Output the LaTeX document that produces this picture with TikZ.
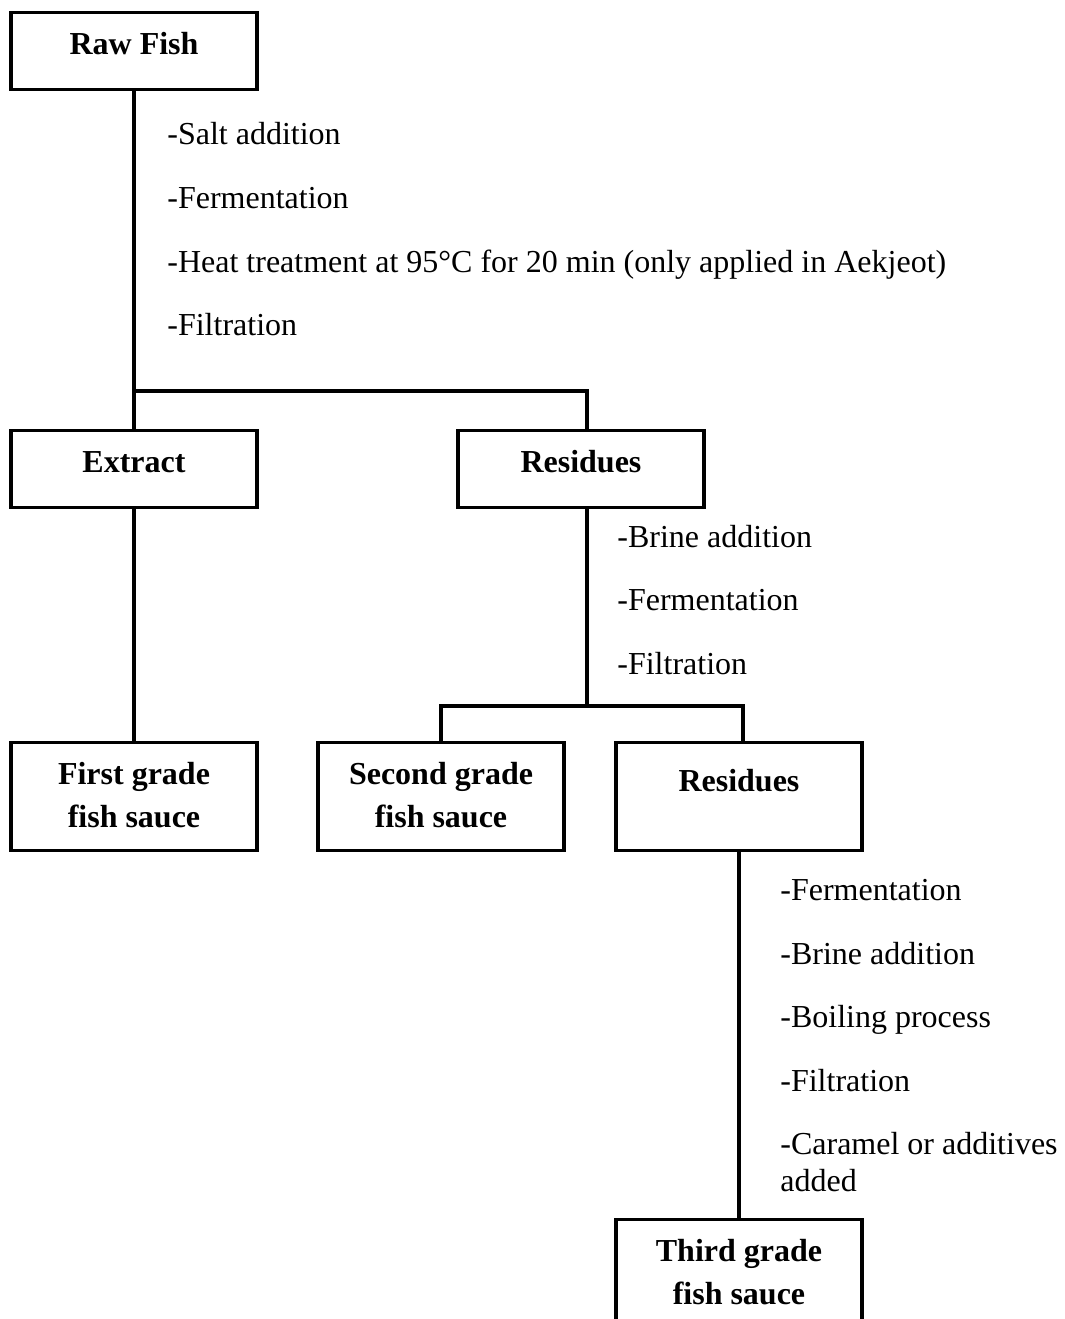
\documentclass[tikz,border=0pt]{standalone}
\usepackage{fontspec}
\setmainfont{Liberation Serif}
\usetikzlibrary{positioning, calc}

\begin{document}
\begin{tikzpicture}[
        x=0.5pt, y=-0.5pt,
        stage/.style={rectangle, draw=black, line width=1.7pt, fill=white, align=center, font=\fontsize{16}{21.5}\selectfont\bfseries, minimum width=123pt, inner xsep=0pt, inner ysep=0pt, anchor=north, text height=21pt, text depth=17.5pt},
        twoline/.style={text height=42.5pt, text depth=11.5pt},
        note/.style={anchor=base west, inner sep=0pt, align=left, font=\fontsize{16}{18.5}\selectfont},
        flow/.style={line width=1.6pt, draw=black}
    ]

        \useasboundingbox (0,0) rectangle (1065,1319);

        % ----------------------------------------------------
        % STAGES
        % ----------------------------------------------------
        \node[stage] (raw) at (134, 11) {Raw Fish};
        \node[stage] (extract) at (134, 429) {Extract};
        \node[stage] (res1) at (581, 429) {Residues};
        \node[stage, twoline] (first) at (134, 741) {First grade\\fish sauce};
        \node[stage, twoline] (second) at (441, 741) {Second grade\\fish sauce};
        \node[stage, text height=24.5pt, text depth=29.5pt] (res2) at (739, 741) {Residues};
        \node[stage, twoline] (third) at (739, 1218) {Third grade\\fish sauce};

        % ----------------------------------------------------
        % PROCESS STEPS
        % ----------------------------------------------------
        \node[note] (salt) at (167, 144) {-Salt addition};
        \node[note] (ferm1) at (167, 208) {-Fermentation};
        \node[note] (heat) at (167, 272) {-Heat treatment at 95°C for 20 min (only applied in Aekjeot)};
        \node[note] (filt1) at (167, 335) {-Filtration};

        \node[note] (brine1) at (617, 547) {-Brine addition};
        \node[note] (ferm2) at (617, 610) {-Fermentation};
        \node[note] (filt2) at (617, 674) {-Filtration};

        \node[note] (ferm3) at (780, 900) {-Fermentation};
        \node[note] (brine2) at (780, 964) {-Brine addition};
        \node[note] (boil) at (780, 1027) {-Boiling process};
        \node[note] (filt3) at (780, 1091) {-Filtration};
        \node[note] (caramel) at (780, 1191) {-Caramel or additives\\added};

        % ----------------------------------------------------
        % FLOW LINES
        % ----------------------------------------------------
        \coordinate (fork1) at (134, 391);
        \coordinate (fork2) at (587, 706);
        \draw[flow] (raw) -- (extract);
        \draw[flow] (fork1) -| ([xshift=3pt]res1.north);
        \draw[flow] (extract) -- (first);
        \draw[flow] ([xshift=3pt]res1.south) -- (fork2);
        \draw[flow] (second.north) |- (fork2) -| ([xshift=2pt]res2.north);
        \draw[flow] (res2) -- (third);

    \end{tikzpicture}
\end{document}
